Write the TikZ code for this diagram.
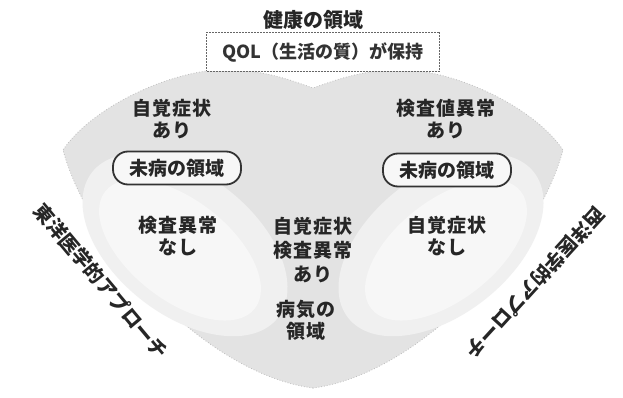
\documentclass[tikz,border=0pt]{standalone}
\usepackage{fontspec}
\newfontfamily\jp{Noto Sans CJK JP}
\tikzset{
  lbl/.style={font=\jp\bfseries\fontsize{19}{22}\selectfont\addfontfeatures{LetterSpace=4}, align=center, text=black!85, inner sep=0pt},
  title/.style={font=\jp\bfseries\fontsize{20}{22}\selectfont, text=black!85, inner sep=0pt},
  qol/.style={font=\jp\bfseries\fontsize{18}{22}\selectfont, text=black!80, inner sep=0pt},
  pill/.style={draw=black!80, line width=1.8pt, rounded corners=15pt, fill=black!3, minimum width=128pt, minimum height=33pt, font=\jp\bfseries\fontsize{19}{22}\selectfont, text=black!85, inner sep=0pt},
  qbox/.style={draw=black!60, line width=1pt, dash pattern=on 2pt off 1pt, fill=white, minimum width=233pt, minimum height=39pt},
  side/.style={font=\jp\bfseries\fontsize{19.5}{21}\selectfont, text=black!85, inner sep=0pt},
  fan/.style={fill=black!11, draw=black!25, line width=0.8pt, dotted},
  petal/.style={fill=black!3}
}
\begin{document}
\begin{tikzpicture}[x=1pt,y=-1pt]
\useasboundingbox (0,0) rectangle (623,398);
\fill[white] (0,0) rectangle (623,398);
% background fan
\path[fan] (313,388)
  .. controls (210,375) and (90,250) .. (63,150)
  .. controls (90,110) and (160,75) .. (215,70)
  .. controls (260,68) and (290,80) .. (313,88)
  .. controls (336,80) and (366,68) .. (411,70)
  .. controls (466,75) and (536,110) .. (563,150)
  .. controls (536,250) and (416,375) .. (313,388) -- cycle;
% lighter inner petals
\fill[black!6] (185,245) ellipse [x radius=118, y radius=70, rotate=-38];
\fill[black!6] (441,245) ellipse [x radius=118, y radius=70, rotate=38];
\fill[petal] (180,250) ellipse [x radius=95, y radius=50, rotate=-38];
\fill[petal] (446,250) ellipse [x radius=95, y radius=50, rotate=38];
% texts
\node[title] (t) at (313,20) {健康の領域};
\node[qbox] (q) at (323,52) {};
\node[qol] (qt) at (q.center) {QOL（生活の質）が保持};
\node[lbl] (lj) at (172,119) {自覚症状\\あり};
\node[pill] (lm) at (177,168) {未病の領域};
\node[lbl] (rk) at (446,119) {検査値異常\\あり};
\node[pill] (rm) at (447,170) {未病の領域};
\node[lbl] (lk) at (178,236) {検査異常\\なし};
\node[lbl, font=\jp\bfseries\fontsize{19}{24}\selectfont\addfontfeatures{LetterSpace=4}] (c) at (313,250) {自覚症状\\検査異常\\あり};
\node[lbl] (b) at (306,320) {病気の\\領域};
\node[lbl] (rj) at (447,236) {自覚症状\\なし};
\node[side, rotate=-50] (ls) at (101,281) {東洋医学的アプローチ};
\node[side, rotate=227.6] (rs) at (535,283) {西洋医学的アプローチ};
\end{tikzpicture}
\end{document}
